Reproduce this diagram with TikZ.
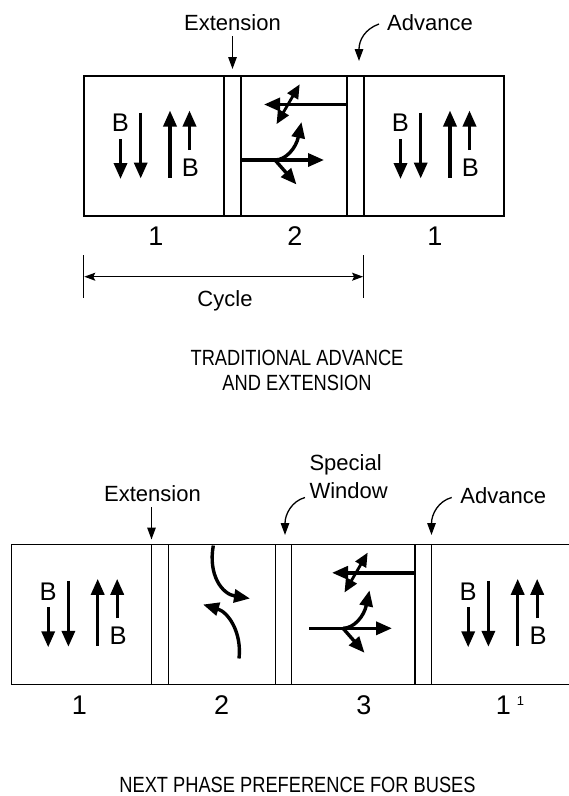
\documentclass[tikz,border=0pt]{standalone}
\usepackage{fontspec}
\setmainfont{Liberation Sans}
\newfontfamily\condfont[FakeStretch=0.83]{Liberation Sans}
\usetikzlibrary{arrows.meta}
\tikzset{
  boxline/.style={line width=1.5pt, line cap=rect},
  fat/.style={line width=3.4pt, -{Triangle[length=16pt,width=13pt]}},
  fatboth/.style={line width=2.8pt, {Triangle[length=14pt,width=12pt]}-{Triangle[length=14pt,width=12pt]}},
  pointer/.style={line width=1.3pt, -{Triangle[length=12pt,width=8.5pt]}},
  dimarrow/.style={line width=1.2pt, {Stealth[length=11pt,width=8pt,inset=2pt]}-{Stealth[length=11pt,width=8pt,inset=2pt]}},
  lab/.style={font=\fontsize{22}{26}\selectfont, anchor=base, inner sep=0pt},
  bletter/.style={font=\fontsize{25.5}{28}\selectfont, anchor=base, inner sep=0pt},
  num/.style={font=\fontsize{27}{30}\selectfont, anchor=base, inner sep=0pt},
  ttl/.style={font=\condfont\fontsize{22}{26}\selectfont, anchor=base, inner sep=0pt},
}
% bus phase pictogram: #1 = name prefix, shift to box top-left
\newcommand{\busphase}[1]{%
  \node[bletter] (#1Bu) at (36.5,55.7) {B};
  \node[bletter] (#1Bl) at (106.5,100) {B};
  \draw[fat] (36.5,63) -- (36.5,103);
  \draw[fat] (56.7,36.5) -- (56.7,102.5);
  \draw[fat] (86,101.5) -- (86,34.5);
  \draw[fat] (105.5,74) -- (105.5,34.5);
}
% through/turn pictogram: origin = box top-right corner, #1 = start of lower line (relative)
\newcommand{\turnphase}[1]{%
  \draw[fat] (0,28.5) -- (-83,28.5);
  \draw[fatboth] (-70.5,48.2) -- (-47.3,8.3);
  \draw[fat] (#1,84) -- (-23,84);
  \draw[fat] (-72,84) .. controls (-61,84) and (-51,72) .. (-45.5,46);
  \draw[fat] (-72,84) -- (-50.5,108.5);
}
\begin{document}
\begin{tikzpicture}[x=1pt,y=-1pt]
\useasboundingbox (0,0) rectangle (569,796);

% ================= TOP DIAGRAM =================
\draw[boxline] (84,76) rectangle (504,216);
\draw[boxline] (224,76) -- (224,216);
\draw[boxline] (241,76) -- (241,216);
\draw[boxline] (347,76) -- (347,216);
\draw[boxline] (364,76) -- (364,216);

\begin{scope}[shift={(84,76)}]\busphase{ta}\end{scope}
\begin{scope}[shift={(364,76)}]\busphase{tc}\end{scope}
\begin{scope}[shift={(347,76)}]\turnphase{-106}\end{scope}

\node[num] (tn1) at (156,245) {1};
\node[num] (tn2) at (295,245) {2};
\node[num] (tn3) at (435,245) {1};

\node[lab] (text) at (232.5,30.7) {Extension};
\coordinate (texta) at (232.5,36);
\coordinate (textb) at (232.5,69);
\draw[pointer] (texta) -- (textb);

\node[lab] (tadv) at (430,30.7) {Advance};
\coordinate (tadva) at (379,24);
\coordinate (tadvb) at (359,61);
\draw[pointer] (tadva) .. controls (365,29) and (359,40) .. (tadvb);

% cycle dimension
\coordinate (cy1a) at (83.7,255);
\coordinate (cy1b) at (83.7,298);
\coordinate (cy2a) at (363.7,255);
\coordinate (cy2b) at (363.7,298);
\draw[line width=1.2pt] (cy1a) -- (cy1b);
\draw[line width=1.2pt] (cy2a) -- (cy2b);
\coordinate (cyl) at (84.3,276.7);
\coordinate (cyr) at (363.1,276.7);
\draw[dimarrow] (cyl) -- (cyr);
\node[lab] (cycle) at (225,306.5) {Cycle};

\node[ttl] (title1) at (297,365.7) {TRADITIONAL ADVANCE};
\node[ttl] (title1b) at (297,390) {AND EXTENSION};

% ================= BOTTOM DIAGRAM =================
\draw[boxline] (569,544.3) -- (11.7,544.3) -- (11.7,684.3) -- (569,684.3);
\foreach \xx in {151.5,168.3,275.3,291.7,415,431.7}
  \draw[boxline] (\xx,544.3) -- (\xx,684.3);

\begin{scope}[shift={(11.7,544.3)}]\busphase{ba}\end{scope}
\begin{scope}[shift={(431.7,544.3)}]\busphase{bd}\end{scope}
\begin{scope}[shift={(415,544.3)}]\turnphase{-106}\end{scope}

% left-turn/curve pictogram in phase 2
\draw[fat] (213.3,545.5) .. controls (208,575) and (222,594) .. (250,598.5);
\draw[fat] (239,658.5) .. controls (242,632) and (228,612) .. (203,604.5);

\node[num] (bn1) at (79.3,714.3) {1};
\node[num] (bn2) at (221.7,714.3) {2};
\node[num] (bn3) at (363.8,714.3) {3};
\node[num] (bn4) at (503.4,714.3) {1};
\node[font=\fontsize{13}{15}\selectfont, anchor=base, inner sep=0pt] (bn4s) at (520.5,705) {1};

\node[lab] (bext) at (152.5,501.7) {Extension};
\coordinate (bexta) at (151.5,507);
\coordinate (bextb) at (151.5,539.5);
\draw[pointer] (bexta) -- (bextb);

\node[lab, anchor=base west] (bsw1) at (309.3,470.7) {Special};
\node[lab, anchor=base west] (bsw2) at (309.3,498.3) {Window};
\coordinate (bswa) at (305,497.5);
\coordinate (bswb) at (285,535);
\draw[pointer] (bswa) .. controls (292,501) and (285,514) .. (bswb);

\node[lab] (badv) at (503.3,503.3) {Advance};
\coordinate (badva) at (451.7,497.5);
\coordinate (badvb) at (431.5,535);
\draw[pointer] (badva) .. controls (438.5,501) and (431.5,514) .. (badvb);

\node[ttl] (title2) at (297.5,792.5) {NEXT PHASE PREFERENCE FOR BUSES};
\end{tikzpicture}
\end{document}
